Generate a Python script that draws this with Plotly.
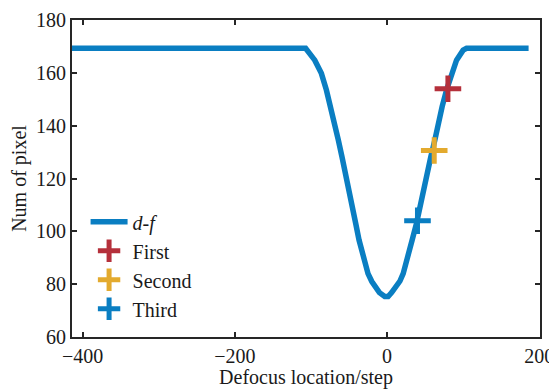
import plotly.graph_objects as go

# d-f curve
curve_x = [-414, -107, -95, -86.3, -79.7, -74, -68.8, -64, -59.2, -54.3, -50, -45.5,
           -41.2, -36.8, -31.6, -25, -20, -16.2, -10, -3, 1.4, 6, 12.4, 17, 21.2, 27.8,
           33, 38.7, 43, 48.3, 52.6, 57.5, 62.8, 67.1, 72.4, 78.2, 84.7, 91.3, 100,
           104.5, 186]
curve_y = [169.3, 169.3, 164.8, 159.8, 153.5, 147.2, 140.9, 134.5, 128.2, 121.9, 115.6,
           109.3, 103, 96.7, 90.3, 84, 81, 79, 76.8, 75.3, 75.3, 76.8, 79, 81.2, 84, 90.3,
           96.7, 103, 109.3, 115.6, 121.9, 128.2, 134.5, 140.9, 147.2, 153.5, 159.8,
           164.8, 168.6, 169.3, 169.3]

first_x, first_y = [80], [154]
second_x, second_y = [62], [130.6]
third_x, third_y = [40], [104]

x_ticks = [-400, -200, 0, 200]
y_ticks = [60, 80, 100, 120, 140, 160, 180]

BLUE = "#0A7EC2"
RED = "#B5303B"
YELLOW = "#E3AA2E"
AXC = "#262626"
FONT = "Liberation Serif"

fig = go.Figure()
fig.add_trace(go.Scatter(x=curve_x, y=curve_y, mode="lines", name="<i>d-f</i>",
                         line=dict(color=BLUE, width=5.5),
                         legendgroup="a"))

def cross(x, y, name, color, g):
    fig.add_trace(go.Scatter(x=x, y=y, mode="markers", name=name, legendgroup=g,
                             marker=dict(symbol="cross-thin", size=19,
                                         line=dict(color=color, width=5))))

cross(first_x, first_y, "First", RED, "b")
cross(second_x, second_y, "Second", YELLOW, "c")
cross(third_x, third_y, "Third", BLUE, "d")

axis_common = dict(showline=True, linecolor=AXC, linewidth=2, mirror="ticks",
                   ticks="inside", ticklen=5, tickwidth=1.5, tickcolor=AXC,
                   showgrid=False, zeroline=False, automargin=False,
                   tickfont=dict(family=FONT, size=20, color="#1a1a1a"))

fig.update_xaxes(range=[-414, 201], tickvals=x_ticks,
                 ticktext=["\u2212400", "\u2212200", "0", "200"],
                 title=dict(text="Defocus location/step", standoff=0,
                            font=dict(family=FONT, size=20, color="#1a1a1a")),
                 **axis_common)
fig.update_yaxes(range=[60, 180], tickvals=y_ticks,
                 title=dict(text="Num of pixel", standoff=4,
                            font=dict(family=FONT, size=20, color="#1a1a1a")),
                 **axis_common)

# page body has an 8px margin, so the figure is sized and placed accordingly
fig.update_layout(
    width=549, height=381,
    margin=dict(l=64, r=17, t=12, b=52),
    paper_bgcolor="white", plot_bgcolor="white",
    showlegend=True,
    legend=dict(x=0.029, y=0.425, xanchor="left", yanchor="top",
                bgcolor="rgba(0,0,0,0)", borderwidth=0, tracegroupgap=0,
                itemwidth=37,
                font=dict(family=FONT, size=20, color="#1a1a1a")),
)

fig.write_html("out.html")
